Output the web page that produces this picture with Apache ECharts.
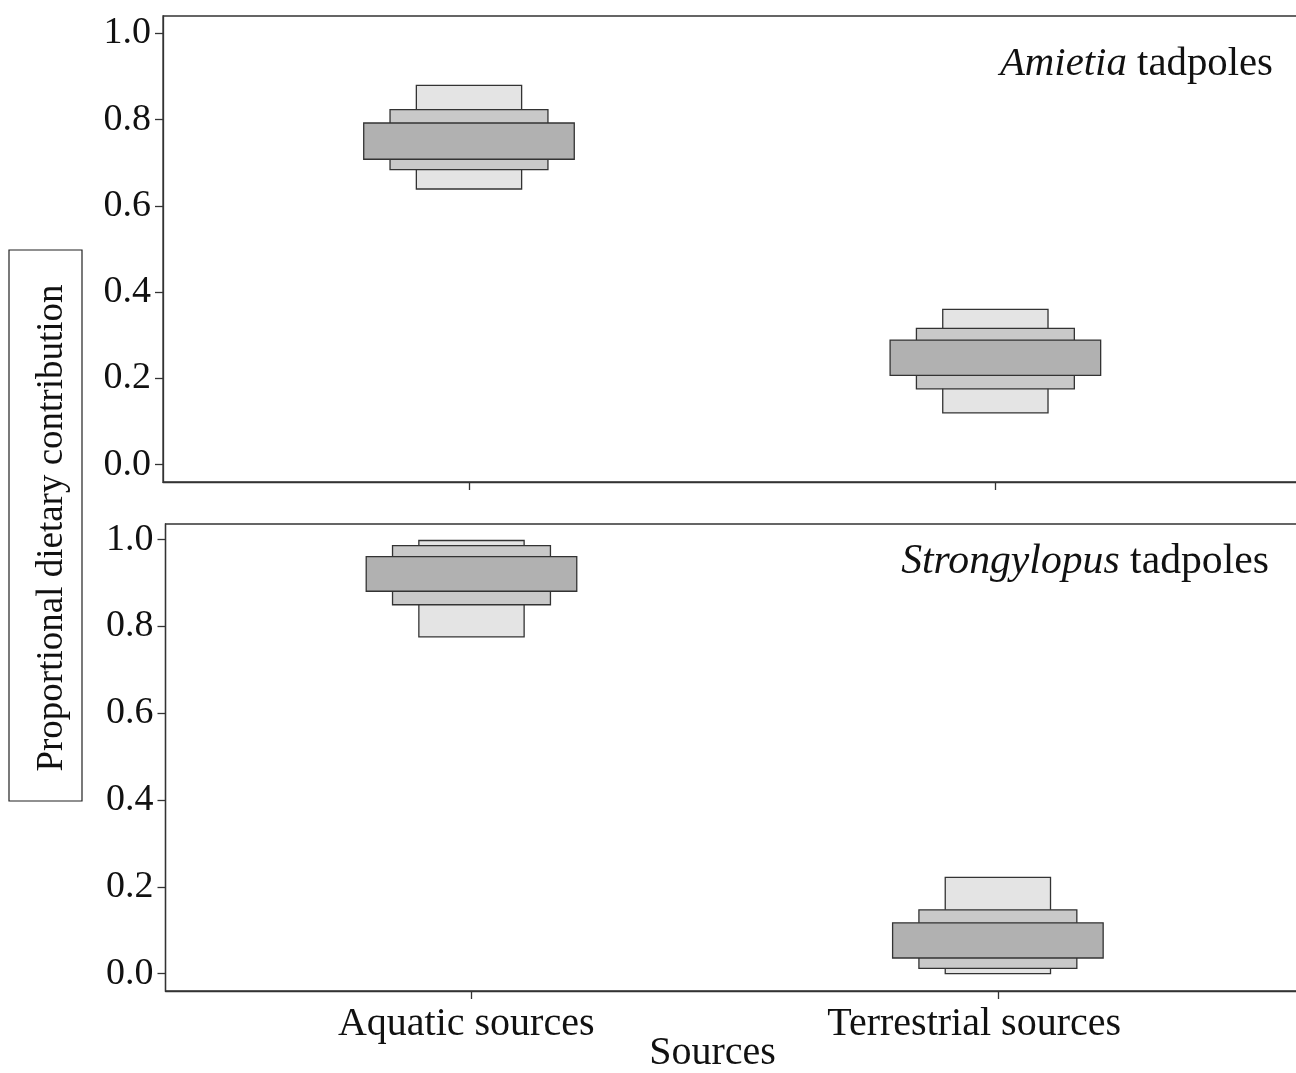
<!DOCTYPE html>
<html>
<head>
<meta charset="utf-8">
<script src="https://cdn.jsdelivr.net/npm/echarts@6/dist/echarts.min.js"></script>
<style>
html,body{margin:0;padding:0;background:#fff;overflow:hidden;}
#chart{width:1296px;height:1073px;}
</style>
</head>
<body>
<div id="chart"></div>
<script>
// ---- data ----
const categories = ['Aquatic sources', 'Terrestrial sources'];
const yTicks = [0, 0.2, 0.4, 0.6, 0.8, 1.0];
// credible intervals [low, high] per source
const amietia95 = [[0.639, 0.879], [0.120, 0.360]];
const amietia75 = [[0.684, 0.823], [0.176, 0.316]];
const amietia50 = [[0.708, 0.792], [0.207, 0.289]];
const strong95 = [[0.776, 0.998], [0.000, 0.222]];
const strong75 = [[0.850, 0.986], [0.012, 0.147]];
const strong50 = [[0.881, 0.961], [0.036, 0.117]];

const FONT = "'Liberation Serif','Times New Roman',serif";
const chart = echarts.init(document.getElementById('chart'));

function boxSeries(arr, gridIdx, width, fill, name) {
  return {
    type: 'custom',
    name: name,
    xAxisIndex: gridIdx,
    yAxisIndex: gridIdx,
    data: arr.map((d, i) => [i + 1, d[0], d[1]]),
    renderItem: function (params, api) {
      const x = api.value(0), lo = api.value(1), hi = api.value(2);
      const p1 = api.coord([x - width / 2, hi]);
      const p2 = api.coord([x + width / 2, lo]);
      return {
        type: 'rect',
        shape: { x: p1[0], y: p1[1], width: p2[0] - p1[0], height: p2[1] - p1[1] },
        style: { fill: fill, stroke: '#333', lineWidth: 1.3 }
      };
    }
  };
}

function yAxis(gridIdx, max) {
  return {
    type: 'value', gridIndex: gridIdx, min: -0.04, max: max,
    axisLine: { show: true, onZero: false, lineStyle: { color: '#333', width: 1.3 } },
    axisTick: { show: true, length: 8, customValues: yTicks, lineStyle: { color: '#333', width: 1.3 } },
    axisLabel: { customValues: yTicks, formatter: v => v.toFixed(1), fontFamily: FONT, fontSize: 38, color: '#111', margin: 12 },
    splitLine: { show: false }
  };
}

function xAxis(gridIdx, showLabels) {
  const ax = {
    type: 'value', gridIndex: gridIdx, min: 0.4187, max: 2.6034, position: 'bottom',
    axisLine: { show: true, onZero: false, lineStyle: { color: '#333', width: 1.3 } },
    axisTick: { show: true, length: 8, customValues: [1, 2], lineStyle: { color: '#333', width: 1.3 } },
    axisLabel: {
      show: showLabels, customValues: [0.990, 1.955],
      formatter: v => (v < 1.5 ? categories[0] : categories[1]),
      fontFamily: FONT, fontSize: 40, color: '#111', margin: 13
    },
    splitLine: { show: false }
  };
  if (showLabels) {
    ax.name = 'Sources';
    ax.nameLocation = 'middle';
    ax.nameGap = 42;
    ax.nameMoveOverlap = false;
    ax.nameTextStyle = { fontFamily: FONT, fontSize: 40, color: '#111', padding: [0, 56, 0, 0] };
  }
  return ax;
}

const option = {
  backgroundColor: '#fff',
  animation: false,
  title: [
    { text: '{i|Amietia} tadpoles', right: 18, top: 39,
      textStyle: { fontFamily: FONT, fontSize: 40.8, fontWeight: 'normal', color: '#111',
        rich: { i: { fontFamily: FONT, fontSize: 40.8, fontStyle: 'italic', color: '#111' } } } },
    { text: '{i|Strongylopus} tadpoles', right: 22, top: 536,
      textStyle: { fontFamily: FONT, fontSize: 41.7, fontWeight: 'normal', color: '#111',
        rich: { i: { fontFamily: FONT, fontSize: 41.7, fontStyle: 'italic', color: '#111' } } } }
  ],
  grid: [
    { left: 163, top: 16, width: 1150, height: 466, show: true, borderColor: '#333', borderWidth: 1.3,
      outerBoundsMode: 'none', containLabel: false },
    { left: 165.5, top: 524, width: 1150, height: 467, show: true, borderColor: '#333', borderWidth: 1.3,
      outerBoundsMode: 'none', containLabel: false }
  ],
  xAxis: [xAxis(0, false), xAxis(1, true)],
  yAxis: [yAxis(0, 1.04), yAxis(1, 1.036)],
  graphic: [
    { type: 'rect', shape: { x: 9, y: 250, width: 73, height: 551 },
      style: { fill: 'none', stroke: '#222', lineWidth: 1.2 } },
    { type: 'text', x: 52, y: 528, rotation: Math.PI / 2,
      style: { text: 'Proportional dietary contribution', font: '37px ' + FONT, fill: '#111',
        align: 'center', verticalAlign: 'middle', textAlign: 'center', textVerticalAlign: 'middle' } }
  ],
  series: [
    boxSeries(amietia95, 0, 0.2, '#e4e4e4', 'A95'),
    boxSeries(amietia75, 0, 0.3, '#c9c9c9', 'A75'),
    boxSeries(amietia50, 0, 0.4, '#b1b1b1', 'A50'),
    boxSeries(strong95, 1, 0.2, '#e4e4e4', 'S95'),
    boxSeries(strong75, 1, 0.3, '#c9c9c9', 'S75'),
    boxSeries(strong50, 1, 0.4, '#b1b1b1', 'S50')
  ]
};
chart.setOption(option);
</script>
</body>
</html>
